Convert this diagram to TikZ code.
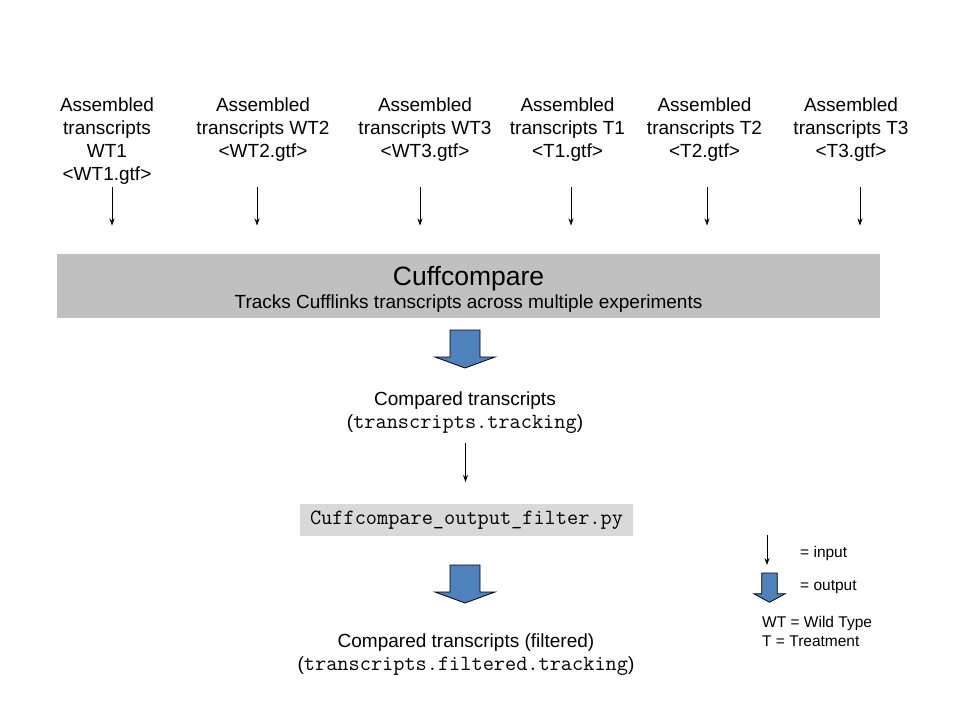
\documentclass[tikz,border=0pt]{standalone}
\usepackage{fontspec}
\setmainfont{Liberation Sans}
\usetikzlibrary{arrows.meta}

\definecolor{boxgray}{HTML}{C0C0C0}
\definecolor{scriptgray}{HTML}{D9D9D9}
\definecolor{arrowblue}{HTML}{4F81BD}

\tikzset{
  txt/.style={inner sep=0pt, align=center, font=\fontsize{19}{23}\selectfont},
  legtxt/.style={txt, anchor=west, font=\fontsize{15.5}{19}\selectfont},
  inarrow/.style={-{Stealth[length=7pt,width=5pt]}, line width=0.8pt},
  pics/outarrow/.style={code={
    \draw[fill=arrowblue, line width=0.8pt, line join=miter]
      (-15,0) -- (15,0) -- (15,27) -- (30,27) -- (0,38) -- (-30,27) -- (-15,27) -- cycle;
  }}
}
\newcommand{\codetxt}[1]{{\fontsize{21.7}{23}\ttfamily #1}}

\begin{document}
\begin{tikzpicture}[x=1pt, y=-1pt]
\useasboundingbox (0,0) rectangle (960,720);

% inputs
\node[txt] (wt1) at (107,141) {Assembled\\transcripts\\WT1\\<WT1.gtf>};
\node[txt] (wt2) at (263,129.5) {Assembled\\transcripts WT2\\<WT2.gtf>};
\node[txt] (wt3) at (425,129.5) {Assembled\\transcripts WT3\\<WT3.gtf>};
\node[txt] (t1) at (567.5,129.5) {Assembled\\transcripts T1\\<T1.gtf>};
\node[txt] (t2) at (704.5,129.5) {Assembled\\transcripts T2\\<T2.gtf>};
\node[txt] (t3) at (851,129.5) {Assembled\\transcripts T3\\<T3.gtf>};

\coordinate (wt1in) at (112,187);
\coordinate (wt2in) at (257,187);
\coordinate (wt3in) at (420,187);
\coordinate (t1in) at (571,187);
\coordinate (t2in) at (707,187);
\coordinate (t3in) at (860,187);
\draw[inarrow] (wt1in) -- ++(0,38.5);
\draw[inarrow] (wt2in) -- ++(0,38.5);
\draw[inarrow] (wt3in) -- ++(0,38.5);
\draw[inarrow] (t1in) -- ++(0,38.5);
\draw[inarrow] (t2in) -- ++(0,38.5);
\draw[inarrow] (t3in) -- ++(0,38.5);

% cuffcompare
\node[txt, fill=boxgray, minimum width=823pt, minimum height=64pt] (cuffcompare) at (468.5,286)
  {{\fontsize{26.5}{23.3}\selectfont\rule{0pt}{26.5pt}Cuffcompare}\\Tracks Cufflinks transcripts across multiple experiments};

\pic at (465,330) {outarrow};

\node[txt] (compared) at (465,413) {Compared transcripts\\(\codetxt{transcripts.tracking})};

\coordinate (comparedout) at (465.5,443);
\draw[inarrow] (comparedout) -- ++(0,39);

\node[inner sep=0pt, fill=scriptgray, minimum width=333pt, minimum height=32pt] (filter) at (466.5,520) {\codetxt{Cuffcompare\_output\_filter.py}};

\pic at (465,565) {outarrow};

\node[txt] (filtered) at (466,655) {Compared transcripts (filtered)\\(\codetxt{transcripts.filtered.tracking})};

% legend
\coordinate (legin) at (767,535);
\draw[inarrow] (legin) -- ++(0,30);
\node[legtxt] (leginput) at (800,553) {= input};
\pic[xscale=0.52, yscale=0.77] at (769.5,573) {outarrow};
\node[legtxt] (legoutput) at (800,587) {= output};
\node[legtxt, align=left] (legabbr) at (762,631) {WT = Wild Type\\T = Treatment};
\end{tikzpicture}
\end{document}
